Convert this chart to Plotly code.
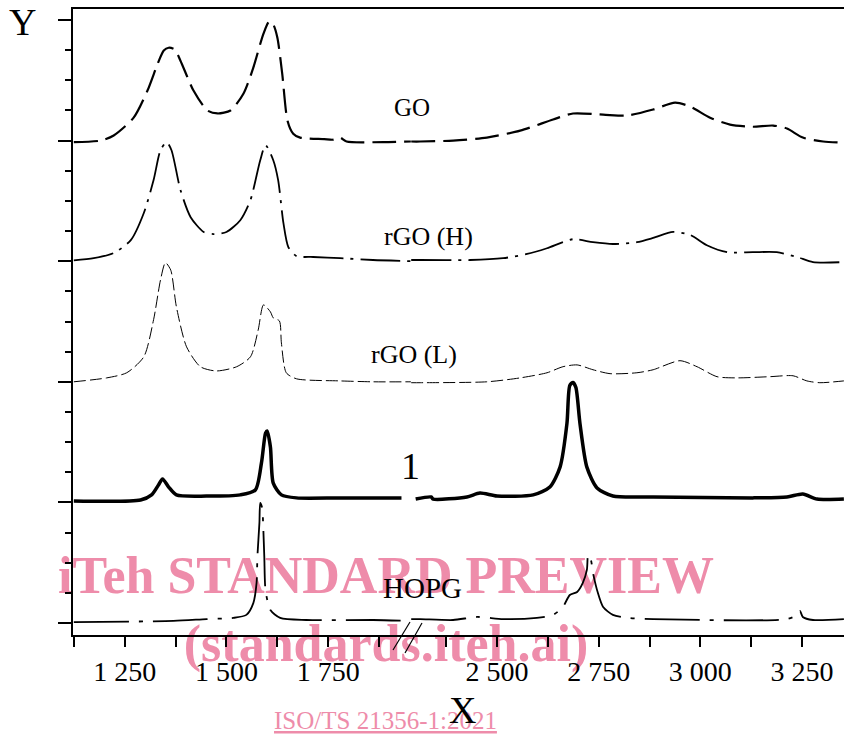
import plotly.graph_objects as go

# ---------------- data (Raman shift in cm-1, intensity in tick units above each baseline) ----
names = ["GO", "rGO (H)", "rGO (L)", "1", "HOPG"]
offsets = [16, 12, 8, 4, 0]

go_lo_x = [1125, 1191, 1223, 1272, 1306, 1331, 1346, 1358, 1373, 1387, 1419, 1453, 1478, 1510, 1542,
           1566, 1591, 1605, 1615, 1625, 1637, 1650, 1664, 1681, 1740, 1762, 1779, 1795, 1885, 1953]
go_lo_y = [-0.05, 0.0, 0.17, 0.76, 1.66, 2.55, 2.99, 3.08, 3.02, 2.65, 1.66, 1.0, 0.9, 1.0, 1.56,
           2.42, 3.55, 3.95, 3.85, 3.42, 2.22, 0.66, 0.23, 0.1, 0.05, 0.03, 0.1, -0.03, -0.05, -0.03]
go_hi_x = [2289, 2311, 2392, 2475, 2557, 2638, 2687, 2761, 2820, 2884, 2938, 2975, 3024, 3073, 3129,
           3179, 3213, 3252, 3302, 3353]
go_hi_y = [-0.03, -0.03, 0.0, 0.1, 0.33, 0.7, 0.9, 0.86, 0.83, 1.03, 1.26, 1.13, 0.76, 0.53, 0.46,
           0.5, 0.4, 0.1, -0.03, -0.07]

rgoh_lo_x = [1125, 1174, 1223, 1265, 1297, 1321, 1338, 1353, 1365, 1387, 1412, 1444, 1468, 1500, 1534,
             1559, 1583, 1596, 1615, 1627, 1640, 1652, 1672, 1713, 1779, 1860, 1953]
rgoh_lo_y = [0.03, 0.1, 0.27, 0.7, 1.6, 2.69, 3.68, 3.95, 3.68, 2.36, 1.46, 0.97, 0.9, 0.97, 1.36,
             2.03, 3.35, 3.85, 3.35, 2.69, 1.26, 0.47, 0.17, 0.14, 0.1, 0.04, 0.0]
rgoh_hi_x = [2289, 2311, 2434, 2515, 2574, 2623, 2687, 2736, 2785, 2844, 2884, 2933, 2975, 3016, 3066,
             3129, 3188, 3238, 3277, 3353]
rgoh_hi_y = [0.04, 0.04, 0.04, 0.1, 0.24, 0.43, 0.73, 0.63, 0.57, 0.63, 0.77, 0.97, 0.87, 0.53, 0.3,
             0.3, 0.3, 0.14, -0.03, -0.03]

rgol_lo_x = [1125, 1206, 1255, 1297, 1321, 1338, 1350, 1363, 1377, 1402, 1436, 1475, 1525, 1559, 1578,
             1591, 1608, 1615, 1630, 1635, 1647, 1672, 1779, 1860, 1953]
rgol_lo_y = [0.0, 0.13, 0.3, 0.83, 2.06, 3.38, 3.95, 3.71, 2.49, 1.16, 0.5, 0.36, 0.5, 0.83, 1.72,
             2.55, 2.32, 2.12, 2.02, 1.29, 0.3, 0.1, 0.03, 0.0, 0.0]
rgol_hi_x = [2289, 2311, 2475, 2557, 2623, 2662, 2697, 2736, 2778, 2844, 2884, 2950, 2992, 3041, 3090,
             3171, 3228, 3262, 3294, 3353]
rgol_hi_y = [-0.03, -0.03, 0.0, 0.13, 0.3, 0.5, 0.56, 0.4, 0.27, 0.3, 0.4, 0.7, 0.5, 0.17, 0.13,
             0.17, 0.2, 0.03, -0.03, 0.03]

gr_lo_x = [1125, 1289, 1316, 1333, 1343, 1358, 1377, 1451, 1534, 1571, 1586, 1596, 1600, 1608, 1615,
           1635, 1672, 1779, 1930]
gr_lo_y = [0.05, 0.08, 0.25, 0.58, 0.78, 0.51, 0.25, 0.21, 0.25, 0.41, 1.31, 2.3, 2.37, 1.84, 0.64,
           0.25, 0.15, 0.15, 0.15]
gr_hi_x = [2300, 2338, 2343, 2426, 2458, 2500, 2589, 2630, 2655, 2672, 2679, 2687, 2694, 2704, 2721,
           2746, 2785, 2884, 3129, 3213, 3252, 3287, 3353]
gr_hi_y = [0.11, 0.18, 0.11, 0.18, 0.31, 0.21, 0.25, 0.51, 1.17, 2.62, 3.88, 3.98, 3.81, 2.62, 1.17,
           0.48, 0.21, 0.18, 0.15, 0.18, 0.28, 0.11, 0.11]

hopg_lo_x = [1125, 1370, 1451, 1517, 1549, 1566, 1574, 1576, 1581, 1583, 1588, 1590, 1593, 1596, 1608,
             1632, 1696, 1860, 1953]
hopg_lo_y = [0.03, 0.07, 0.13, 0.17, 0.27, 0.66, 1.33, 2.19, 3.32, 3.98, 3.81, 3.32, 2.19, 1.09, 0.43,
             0.17, 0.1, 0.1, 0.07]
hopg_hi_x = [2289, 2311, 2392, 2451, 2515, 2598, 2638, 2662, 2679, 2697, 2711, 2721, 2724, 2731, 2736,
             2748, 2761, 2785, 2820, 2884, 3213, 3238, 3245, 3252, 3277, 3353]
hopg_hi_y = [0.13, 0.13, 0.1, 0.2, 0.13, 0.17, 0.27, 0.53, 0.93, 1.03, 1.33, 1.76, 2.26, 2.09, 1.66,
             1.0, 0.53, 0.27, 0.17, 0.13, 0.13, 0.27, 0.4, 0.2, 0.1, 0.13]

x_lo_ticks = [1125, 1250, 1375, 1500, 1625, 1750, 1875]
x_lo_labels = ["", "1 250", "", "1 500", "", "1 750", ""]
x_hi_ticks = [2375, 2500, 2625, 2750, 2875, 3000, 3125, 3250]
x_hi_labels = ["", "2 500", "", "2 750", "", "3 000", "", "3 250"]
y_major = [0, 4, 8, 12, 16, 20]
y_minor = [v for v in range(0, 21) if v % 4 != 0]

series = [
    (go_lo_x, go_lo_y, go_hi_x, go_hi_y),
    (rgoh_lo_x, rgoh_lo_y, rgoh_hi_x, rgoh_hi_y),
    (rgol_lo_x, rgol_lo_y, rgol_hi_x, rgol_hi_y),
    (gr_lo_x, gr_lo_y, gr_hi_x, gr_hi_y),
    (hopg_lo_x, hopg_lo_y, hopg_hi_x, hopg_hi_y),
]
styles = [
    dict(width=2.2, dash="24px,8px"),
    dict(width=1.8, dash="40px,7px,3px,7px"),
    dict(width=1.0, dash="12px,4px"),
    dict(width=3.5, dash="solid"),
    dict(width=1.8, dash="55px,10px,4px,10px"),
]

PINK = "rgb(238,140,170)"
SERIF = "Liberation Serif"

W, H = 844, 735
ML, MR, MT, MB = 73, 0, 9, 100
PW, PH = W - ML - MR, H - MT - MB


def px(xp):
    return (xp - ML) / PW


def py(yp):
    return (H - MB - yp) / PH


fig = go.Figure()

# watermark (below the curves) - two lines in one text block
fig.add_trace(go.Scatter(x=[1892], y=[0.3], mode="text",
                         text=["iTeh STANDARD PREVIEW<br>(standards.iteh.ai)"],
                         textposition="middle center", cliponaxis=False, hoverinfo="skip",
                         showlegend=False,
                         textfont=dict(family=SERIF, size=52, color=PINK, weight="bold")))

for (xl, yl, xh, yh), off, st, nm in zip(series, offsets, styles, names):
    fig.add_trace(go.Scatter(x=xl, y=[v + off for v in yl], mode="lines", xaxis="x", yaxis="y",
                             line=dict(color="black", shape="spline", smoothing=0.7, **st),
                             name=nm, showlegend=False, hoverinfo="skip"))
    fig.add_trace(go.Scatter(x=xh, y=[v + off for v in yh], mode="lines", xaxis="x2", yaxis="y2",
                             line=dict(color="black", shape="spline", smoothing=0.7, **st),
                             name=nm, showlegend=False, hoverinfo="skip"))

split = px(411)
yrange = [-0.398, 20.365]
axis_common = dict(showline=True, linecolor="black", linewidth=2.3, mirror=True,
                   ticks="outside", ticklen=10, tickwidth=1.5, tickcolor="black",
                   showgrid=False, zeroline=False, automargin=False,
                   tickfont=dict(family=SERIF, size=28, color="black"))

fig.update_layout(
    width=W, height=H,
    margin=dict(l=ML, r=MR, t=MT, b=MB, autoexpand=False),
    paper_bgcolor="white", plot_bgcolor="rgba(0,0,0,0)",
    showlegend=False,
    xaxis=dict(domain=[0, split], range=[1123, 1953.4], anchor="y",
               tickmode="array", tickvals=x_lo_ticks, ticktext=x_lo_labels, **axis_common),
    xaxis2=dict(domain=[split, 1], range=[2288.5, 3353.3], anchor="y2",
                tickmode="array", tickvals=x_hi_ticks, ticktext=x_hi_labels, **axis_common),
    yaxis=dict(domain=[0, 1], range=yrange, anchor="x", showline=True, linecolor="black",
               linewidth=2.3, ticks="outside", ticklen=13, tickwidth=1.5, tickcolor="black",
               tickmode="array", tickvals=y_major, showticklabels=False, showgrid=False,
               zeroline=False, automargin=False,
               minor=dict(tickmode="array", tickvals=y_minor, ticks="outside", ticklen=6,
                          tickwidth=1.5, tickcolor="black", showgrid=False)),
    yaxis2=dict(domain=[0, 1], range=yrange, anchor="x2", visible=False),
)

# axis-break marks
for (x0, y0, x1, y1) in [(393, 650, 410, 622), (405, 653, 422, 623)]:
    fig.add_shape(type="line", xref="paper", yref="paper", x0=px(x0), y0=py(y0), x1=px(x1), y1=py(y1),
                  line=dict(color="black", width=1.2))

labels = [
    ("GO", 412, 107, 25),
    ("rGO (H)", 428, 236, 26),
    ("rGO (L)", 414, 354, 26),
    ("1", 410, 466, 38),
    ("HOPG", 422, 588, 29),
    ("Y", 22, 22, 38),
]
for t, xp_, yp_, sz in labels:
    fig.add_annotation(text=t, x=px(xp_), y=py(yp_), xref="paper", yref="paper", showarrow=False,
                       xanchor="center", yanchor="middle",
                       font=dict(family=SERIF, size=sz, color="black"))

fig.add_annotation(text="<u>ISO/TS 21356-1:2021</u>", x=px(385), y=py(720), xref="paper", yref="paper",
                   showarrow=False, xanchor="center", yanchor="middle",
                   font=dict(family=SERIF, size=25, color=PINK))
fig.add_annotation(text="X", x=px(462), y=py(710), xref="paper", yref="paper", showarrow=False,
                   xanchor="center", yanchor="middle", font=dict(family=SERIF, size=38, color="black"))

fig.write_html("out.html", config={"displayModeBar": False},
               post_script="document.body.style.margin='0px';"
                           "document.body.style.overflow='hidden';")
